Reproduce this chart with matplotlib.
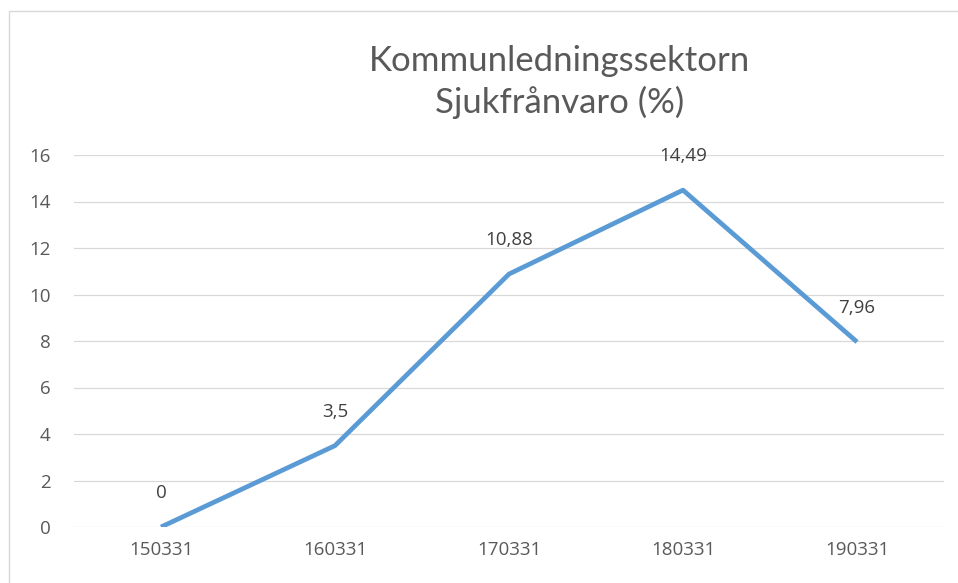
import matplotlib.pyplot as plt
from matplotlib.patches import Rectangle

# ===============================================================================
#       DATA
# ===============================================================================
CATEGORIES = ["150331", "160331", "170331", "180331", "190331"]
VALUES = [0, 3.5, 10.88, 14.49, 7.96]
LABELS = ["0", "3,5", "10,88", "14,49", "7,96"]
Y_TICKS = [0, 2, 4, 6, 8, 10, 12, 14, 16]

TITLE_LINES = ["Kommunledningssektorn", "Sjukfrånvaro (%)"]

# ===============================================================================
#       PLOT CONFIGURATIONS
# ===============================================================================
W, H = 958, 583
LINE_COLOR = "#5B9BD5"
GRID_COLOR = "#D9D9D9"
TICK_COLOR = "#595959"
LABEL_COLOR = "#404040"
FONT = ["Open Sans", "DejaVu Sans"]

plt.rcParams["font.family"] = FONT

fig = plt.figure(figsize=(W / 100, H / 100), dpi=100)

# Chart area border (partially cropped in the reference)
fig.patches.append(Rectangle((9 / W, -0.1), 1.2, (H - 11) / H + 0.1,
                             transform=fig.transFigure, fill=False,
                             edgecolor="#D9D9D9", linewidth=1.0))

ax = fig.add_axes([74 / W, 1 - 527 / H, (944 - 74) / W, (527 - 155) / H])

x = list(range(len(CATEGORIES)))
ax.plot(x, VALUES, color=LINE_COLOR, linewidth=3.4, solid_joinstyle="round",
        solid_capstyle="butt", zorder=3)

for xi, v, lab in zip(x, VALUES, LABELS):
    ax.annotate(lab, (xi, v), xytext=(0, 24.5), textcoords="offset points",
                ha="center", va="center", fontsize=13.5, color=LABEL_COLOR)

ax.set_xlim(-0.5, len(CATEGORIES) - 0.5)
ax.set_ylim(0, 16)
ax.set_xticks(x)
ax.set_xticklabels(CATEGORIES)
ax.set_yticks(Y_TICKS)
ax.set_yticklabels([str(t) for t in Y_TICKS])

ax.grid(axis="y", color=GRID_COLOR, linewidth=0.9)
ax.set_axisbelow(True)
for s in ax.spines.values():
    s.set_visible(False)
ax.tick_params(axis="both", length=0, labelsize=13.5, colors=TICK_COLOR)
ax.tick_params(axis="y", pad=17)
ax.tick_params(axis="x", pad=10)
for lab in ax.get_yticklabels():
    lab.set_horizontalalignment("right")

# Two-line title
for i, line in enumerate(TITLE_LINES):
    fig.text(560 / W, 1 - (61 + 41 * i) / H, line, ha="center", va="center",
             fontsize=25, color=TICK_COLOR,
             family=["Lato", "DejaVu Sans"], fontweight="normal")

fig.savefig("out.png", dpi=100, facecolor="white")
